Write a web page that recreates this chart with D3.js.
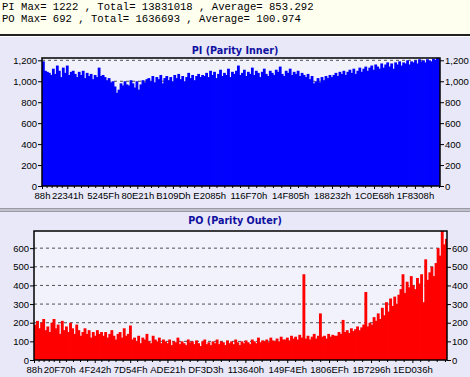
<!DOCTYPE html>
<html>
<head>
<meta charset="utf-8">
<script src="https://cdn.jsdelivr.net/npm/d3@7"></script>
<style>
  body { margin: 0; background: #e8e8f8; }
  svg { display: block; }
</style>
</head>
<body>
<svg width="470" height="377"></svg>
<script>
// summary lines at the top
const headerLines = [
    "PI Max= 1222 , Total= 13831018 , Average= 853.292",
    "PO Max= 692 , Total= 1636693 , Average= 100.974"
];

// x tick labels (sector addresses, hex)
const piXTicks = ["88", "22341", "5245F", "80E21", "B109D", "E2085", "116F70", "14F805", "188232", "1C0E68", "1F8308"];
const poXTicks = ["88", "20F70", "4F242", "7D54F", "ADE21", "DF3D3", "113640", "149F4E", "1806EF", "1B7296", "1ED036"];

const piYTicks = [0, 200, 400, 600, 800, 1000, 1200];
const poYTicks = [0, 100, 200, 300, 400, 500, 600];

const addrStart = 0x88;
const addrEnd = 2204000;

// PI errors per block
const piValues = [
    1190, 1100,
    1090, 1080, 1060, 1120, 1070, 1150, 1100, 1040, 1130, 1080, 1150, 1060, 1090, 1100,
    1070, 1040, 1090, 1060, 1100, 1030, 1080, 1050, 1070, 1020, 1060, 1040, 1130,
    1050, 1060, 1040, 1010, 1030, 990, 1000, 950,
    890, 920, 980, 960, 1000, 970, 960, 1010, 980, 940, 1000, 920, 970, 1010, 990, 1020,
    1030, 1000, 1050, 990, 1040, 1020, 1060, 980, 1030, 1050, 1010, 1040, 1000, 1060,
    1030, 1070, 1020, 1050, 1000, 1040, 1080, 1030, 1060, 1010, 1050, 1070, 1040, 1060,
    1050, 1080, 1040, 1100, 1060, 1090, 1030, 1070, 1110, 1050, 1080, 1060, 1120, 1040,
    1090, 1070, 1100, 1150, 1060, 1080, 1110, 1050, 1090, 1070, 1130, 1060, 1100, 1080,
    1040, 1090, 1120, 1070, 1050, 1100, 1080, 1060, 1110, 1090, 1140, 1070, 1050, 1100,
    1080, 1120, 1060, 1090, 1070, 1100, 1050, 1080,
    1060, 1040, 1070, 1020, 1050, 980, 1000, 1030, 990, 1040, 1010, 1050, 1030, 1060, 1040,
    1060, 1080, 1050, 1090, 1070, 1100, 1060, 1090, 1110, 1080, 1120, 1070, 1100, 1130,
    1090, 1120, 1140, 1100, 1130, 1150, 1110, 1160, 1140, 1120, 1170,
    1130, 1160, 1180, 1140, 1170, 1120, 1180, 1160, 1190, 1150, 1180, 1170, 1200, 1160,
    1190, 1180, 1200, 1170, 1210, 1190, 1200, 1180, 1210, 1200, 1190, 1215, 1205, 1222, 1210
];

// PO errors per block
const poValues = [
    190, 210, 170, 200, 220, 160, 180, 150, 200, 220, 170, 190, 140, 210, 160, 180,
    150, 200, 170, 140, 190, 160, 130, 150, 170, 140, 160, 120, 150, 130, 160, 140, 150,
    130, 150, 120, 140, 160, 130, 110, 140, 150, 120, 170, 130, 140, 185, 110, 120,
    100, 130, 90, 120, 110, 140, 100, 90, 130, 110, 100, 120, 90, 110,
    100, 90, 110, 80, 100, 95, 120, 85, 100, 90,
    80, 110, 95, 100, 85, 105, 90, 75, 100, 110,
    85, 95, 80, 100, 90, 110, 85, 100, 95, 80,
    105, 90, 100, 85, 110, 95, 80, 100, 90, 105,
    95, 85, 110, 100, 90, 120, 95, 105, 100, 110,
    95, 120, 105, 100, 115, 100, 125, 110,
    110, 120, 105, 130, 115, 125, 110, 135, 120, 460, 115, 130, 110, 125, 140,
    115, 130, 250, 125, 130, 115, 140, 125, 135, 130,
    130, 150, 140, 215, 150, 160, 145, 170, 155, 165, 180, 160, 175, 190, 365,
    180, 200, 190, 230, 210, 250, 220, 280, 240, 310, 260, 330, 290, 340, 300,
    350, 380, 460, 360, 420, 390, 450, 400, 380, 440, 410, 460, 310, 540, 430,
    470, 500, 450, 520, 600, 560, 692, 620, 650
];

const svg = d3.select("svg");

// шапка с итогами
svg.append("rect").attr("x", 0).attr("y", 0).attr("width", 470).attr("height", 34).attr("fill", "#fffff0");
svg.append("rect").attr("x", 0).attr("y", 34).attr("width", 470).attr("height", 2).attr("fill", "#202020");
svg.append("rect").attr("x", 0).attr("y", 36).attr("width", 470).attr("height", 1).attr("fill", "#ffffff");

svg.selectAll(".hdr")
    .data(headerLines)
    .enter()
    .append("text")
    .attr("x", 2)
    .attr("y", (d, i) => 10 + i * 12)
    .style("font-family", "'Liberation Mono', monospace")
    .style("font-size", "10.6px")
    .style("fill", "#000")
    .attr("xml:space", "preserve")
    .text(d => d);

// разделитель между графиками
svg.append("rect").attr("x", 0).attr("y", 208).attr("width", 470).attr("height", 4).attr("fill", "#9a9aa6");
svg.append("rect").attr("x", 0).attr("y", 209.5).attr("width", 470).attr("height", 1).attr("fill", "#e8e8f0");

function drawPanel(cfg) {
    const g = svg.append("g");
    const area = cfg.area;

    let scX = d3.scaleLinear().domain([addrStart, addrEnd]).range([area.left, area.right]);
    let scY = d3.scaleLinear().domain([0, cfg.max]).range([area.bottom, area.top]);

    // title
    g.append("text")
        .attr("x", 235)
        .attr("y", cfg.titleY)
        .attr("text-anchor", "middle")
        .style("font-family", "'DejaVu Sans', sans-serif")
        .style("font-weight", "bold")
        .style("font-size", "9.6px")
        .style("fill", "#1010a0")
        .text(cfg.title);

    // plot background
    g.append("rect")
        .attr("x", area.left).attr("y", area.top)
        .attr("width", area.right - area.left).attr("height", area.bottom - area.top)
        .attr("fill", "#f2f2fc");

    // grid
    g.selectAll(".grid")
        .data(cfg.yTicks.filter(v => v > 0))
        .enter()
        .append("line")
        .attr("x1", area.left).attr("x2", area.right)
        .attr("y1", d => scY(d)).attr("y2", d => scY(d))
        .style("stroke", "#505050")
        .style("stroke-width", 1)
        .style("stroke-dasharray", "3,3");

    // bars (slightly overlapping so no gaps between neighbours)
    const step = (addrEnd - addrStart) / cfg.values.length;
    const bw = scX(addrStart + step) - scX(addrStart);
    g.selectAll(".bar")
        .data(cfg.values)
        .enter()
        .append("rect")
        .attr("x", (d, i) => scX(addrStart + i * step))
        .attr("y", d => scY(d))
        .attr("width", (d, i) => i < cfg.values.length - 1 ? bw + 0.8 : bw)
        .attr("height", d => area.bottom - scY(d))
        .style("fill", cfg.color);

    // axes
    const fmt = cfg.comma ? d3.format(",") : d3.format("d");
    const axL = g.append("g")
        .attr("transform", `translate(${area.left},0)`)
        .call(d3.axisLeft(scY).tickValues(cfg.yTicks).tickFormat(fmt).tickSize(4).tickPadding(1));
    const axR = g.append("g")
        .attr("transform", `translate(${area.right},0)`)
        .call(d3.axisRight(scY).tickValues(cfg.yTicks).tickFormat(fmt).tickSize(4).tickPadding(1));

    const tickAddr = cfg.xTicks.map(t => parseInt(t, 16));
    const axB = g.append("g")
        .attr("transform", `translate(0,${area.bottom})`)
        .call(d3.axisBottom(scX).tickValues(tickAddr).tickFormat(d => d.toString(16).toUpperCase() + "h").tickSize(3).tickPadding(3));

    // minor ticks on x axis
    let minor = [];
    for (let k = 0; k < tickAddr.length; k++) {
        let a = tickAddr[k];
        let b = k < tickAddr.length - 1 ? tickAddr[k + 1] : tickAddr[k] + (tickAddr[k] - tickAddr[k - 1]);
        for (let j = 1; j < 5; j++) {
            let v = a + (b - a) * j / 5;
            if (v < addrEnd) minor.push(v);
        }
    }
    g.selectAll(".minor")
        .data(minor)
        .enter()
        .append("line")
        .attr("x1", d => scX(d)).attr("x2", d => scX(d))
        .attr("y1", area.bottom).attr("y2", area.bottom + 2)
        .style("stroke", "#000");

    [axL, axR, axB].forEach(ax => {
        ax.select(".domain").remove();
        ax.selectAll("text")
            .style("font-family", "'Liberation Sans', sans-serif")
            .style("font-size", "9.5px")
            .style("fill", "#000");
    });

    // frame
    g.append("rect")
        .attr("x", area.left).attr("y", area.top)
        .attr("width", area.right - area.left).attr("height", area.bottom - area.top)
        .attr("fill", "none")
        .style("stroke", "#000")
        .style("stroke-width", 1.5);
}

drawPanel({
    title: "PI (Parity Inner)",
    titleY: 54,
    values: piValues,
    max: 1222,
    yTicks: piYTicks,
    xTicks: piXTicks,
    color: "#0000ff",
    comma: true,
    area: { left: 42, right: 440, top: 58, bottom: 186 }
});

drawPanel({
    title: "PO (Parity Outer)",
    titleY: 224,
    values: poValues,
    max: 692,
    yTicks: poYTicks,
    xTicks: poXTicks,
    color: "#ff0000",
    comma: false,
    area: { left: 34, right: 447, top: 231, bottom: 360 }
});
</script>
</body>
</html>
